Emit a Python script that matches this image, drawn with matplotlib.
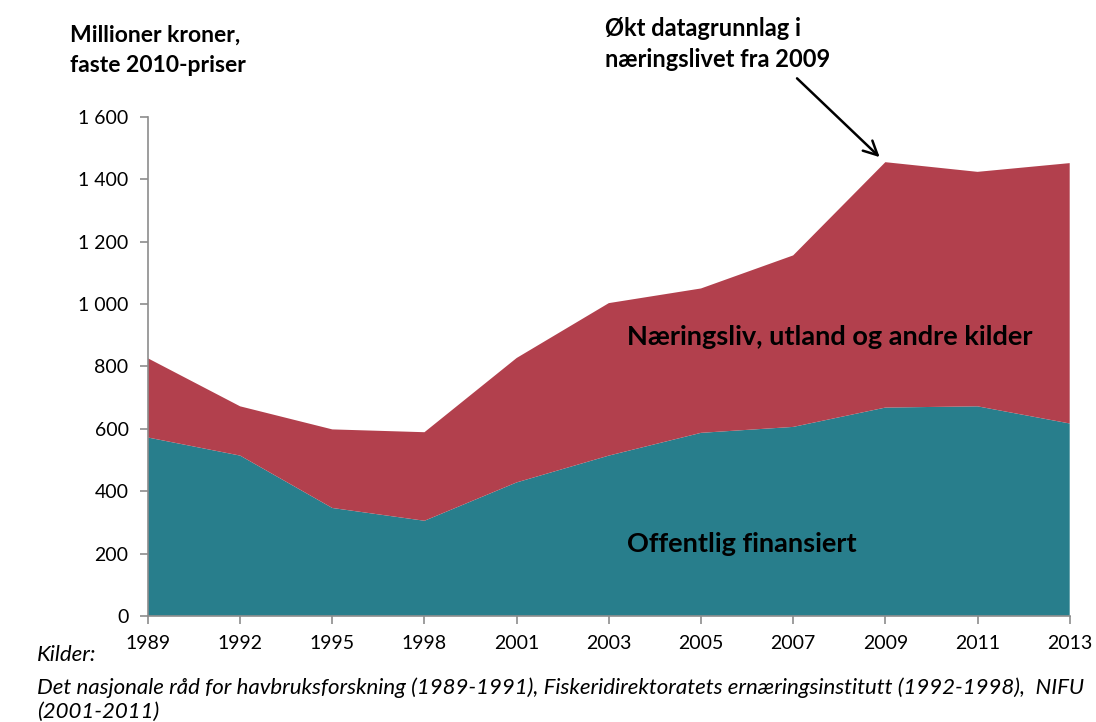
import matplotlib
matplotlib.use("Agg")
import matplotlib.pyplot as plt
from matplotlib.ticker import FuncFormatter
import numpy as np

plt.rcParams['font.family'] = ['Lato', 'DejaVu Sans']

years = ['1989', '1992', '1995', '1998', '2001', '2003', '2005', '2007', '2009', '2011', '2013']
offentlig = [572, 514, 346, 305, 428, 514, 587, 606, 668, 672, 617]
naeringsliv = [254, 158, 252, 284, 399, 489, 463, 550, 787, 752, 835]

teal = '#287E8C'
red = '#B2404D'
grey = '#8C8C8C'

fig = plt.figure(figsize=(10.96, 7.22), dpi=100)
ax = fig.add_axes([0.135, 0.147, 0.841, 0.691])

x = np.arange(len(years))
ax.stackplot(x, offentlig, naeringsliv, colors=[teal, red], linewidth=0)

ax.set_xlim(0, len(years) - 1)
ax.set_ylim(0, 1600)
ax.set_yticks(range(0, 1601, 200))
ax.yaxis.set_major_formatter(FuncFormatter(lambda v, p: f'{int(v):,}'.replace(',', ' ')))
ax.set_xticks(x)
ax.set_xticklabels(years)

for s in ['top', 'right']:
    ax.spines[s].set_visible(False)
for s in ['left', 'bottom']:
    ax.spines[s].set_color(grey)
    ax.spines[s].set_linewidth(1.2)
ax.tick_params(axis='both', colors=grey, labelcolor='black', labelsize=14, length=6, width=1.2)
ax.tick_params(axis='y', pad=8)
ax.tick_params(axis='x', pad=8)

fig.text(70 / 1096, 1 - 50 / 722, 'Millioner kroner,\nfaste 2010-priser', fontsize=16.5,
         fontweight='bold', va='center', ha='left', linespacing=1.55)

fig.text(605 / 1096, 1 - 44 / 722, 'Økt datagrunnlag i\nnæringslivet fra 2009', fontsize=17,
         fontweight='bold', va='center', ha='left', linespacing=1.4)
ax.annotate('', xy=(8 - 0.04, 1465), xytext=(7.02, 1730), xycoords='data',
            arrowprops=dict(arrowstyle='->', color='black', lw=1.8, mutation_scale=25),
            annotation_clip=False)

ax.text(7.4, 895, 'Næringsliv, utland og andre kilder', fontsize=19.5, fontweight='bold',
        ha='center', va='center')
ax.text(5.2, 230, 'Offentlig finansiert', fontsize=19.5, fontweight='bold',
        ha='left', va='center')

fig.text(37 / 1096, 1 - 655 / 722, 'Kilder:', fontsize=16, style='italic', va='center', ha='left')
fig.text(37 / 1096, 1 - 688 / 722,
         'Det nasjonale råd for havbruksforskning (1989-1991), Fiskeridirektoratets ernæringsinstitutt (1992-1998),  NIFU',
         fontsize=16, style='italic', va='center', ha='left')
fig.text(37 / 1096, 1 - 712 / 722, '(2001-2011)', fontsize=16, style='italic', va='center', ha='left')

fig.savefig('out.png', dpi=100)
